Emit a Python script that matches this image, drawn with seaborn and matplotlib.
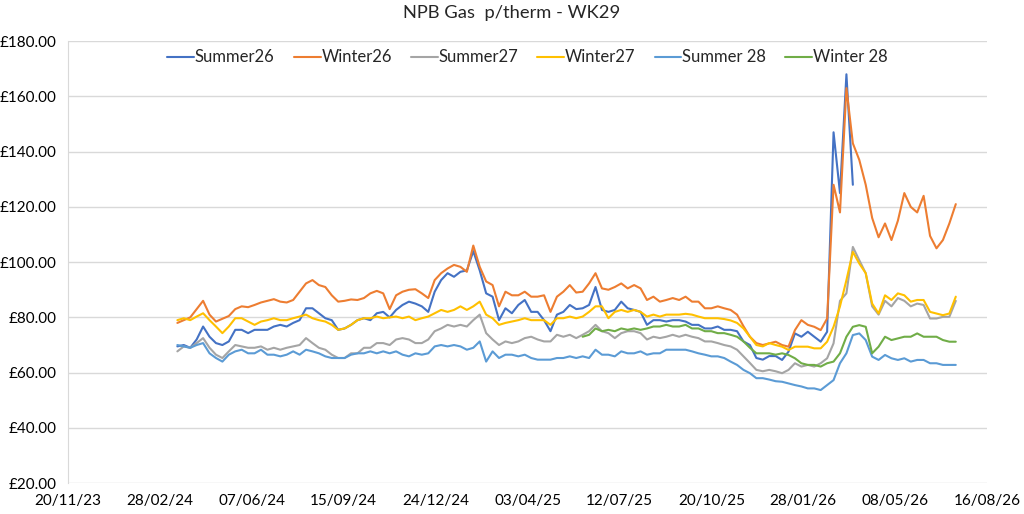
import numpy as np
import pandas as pd
import seaborn as sns
import matplotlib
matplotlib.use("Agg")
import matplotlib.pyplot as plt
import matplotlib.dates as mdates
from matplotlib.ticker import FuncFormatter

# weekly closes (p/therm), 18/03/24 -> 13/07/26
dates = pd.date_range("2024-03-18", periods=122, freq="7D")

summer26 = [
    69.5, 70, 69, 72, 76.7, 73, 70.7, 70, 71.3, 75.5,
    75.5, 74.3, 75.5, 75.5, 75.5, 76.7, 77.3, 76.7, 78, 79,
    83.3, 83.3, 81.5, 79.7, 79, 75.5, 76, 77.3, 79, 79.7,
    79, 81.5, 82, 80, 82.7, 84.5, 85.7, 85, 84, 82,
    89.3, 93.5, 96, 94.7, 96.5, 97, 104, 97, 88.7, 87.5,
    79, 83.3, 81.5, 84.5, 86.3, 82, 82, 79, 75, 81,
    82, 84.5, 83, 83.3, 84.5, 91, 82.7, 82, 82.7, 85.7,
    83.3, 82.7, 82, 77.3, 79, 79, 78.5, 79, 79, 78.5,
    77.3, 77.3, 76, 76, 76.7, 75.5, 75.5, 75, 71.3, 70,
    65.3, 64.7, 66, 66, 64.6, 67.6, 74.2, 73, 74.8, 73,
    71.2, 74.8, 147, 125, 168, 128,
] + [np.nan] * 16

winter26 = [
    78, 79, 80, 83, 86, 81, 78.5, 79.5, 80.5, 83,
    84, 83.7, 84.5, 85.4, 86, 86.6, 85.7, 85.4, 86.3, 89.3,
    92.3, 93.5, 91.7, 91, 88, 85.7, 86, 86.5, 86.3, 87,
    88.7, 89.6, 88.7, 83, 88, 89.3, 90, 90.2, 88.7, 87,
    93.5, 96, 97.7, 99, 98.3, 96.5, 106, 98.3, 93, 91.7,
    84, 89.3, 88, 88, 89.3, 87.5, 87.5, 88, 82, 87.5,
    89.3, 91.7, 89, 89.3, 92.3, 96, 90.5, 90, 91, 92.3,
    90.5, 91.7, 90.5, 86.3, 87.5, 85.7, 86.3, 87, 86.3, 87.5,
    85.7, 85.7, 83.3, 83.3, 84, 83.3, 82.7, 81, 76.8, 73,
    70.7, 70, 70.6, 71.2, 70, 69.4, 75.4, 79, 77.3, 76.6,
    75.4, 79.6, 128, 118, 163, 143, 137, 128, 116, 109,
    114, 108, 115, 125, 120, 118, 124, 109.5, 105, 108,
    114, 121,
]

summer27 = [
    67.7, 69.5, 69, 70.7, 72.5, 69, 66.5, 65.3, 67.7, 70,
    69.5, 69, 69, 69.5, 68.3, 69, 68.3, 69, 69.5, 70,
    72.5, 70.7, 69, 68.3, 66.5, 65.3, 65.3, 67, 67, 69,
    69, 70.7, 70.7, 70, 72, 72.5, 72, 70.7, 70.7, 72,
    75, 76, 77.3, 76.7, 77.3, 76.7, 79, 81, 74.3, 72,
    70, 71.3, 70.7, 71.3, 72.5, 73, 72, 71.3, 71.3, 73.7,
    73, 73.7, 72.5, 73.7, 75, 77.3, 75, 74.3, 72.5, 74.3,
    75, 75, 74.3, 72, 73, 72.5, 73, 73.7, 73, 73.7,
    73, 72.5, 71.3, 71.3, 70.7, 70, 69.5, 68.3, 65.9, 63.5,
    61, 60.5, 61, 60.5, 59.8, 61, 63.4, 62.2, 62.8, 62.2,
    63.4, 65.2, 70.6, 86, 88.7, 105.5, 100.7, 96, 84, 81,
    86, 84, 87, 86, 84, 85, 84.5, 79.6, 79.6, 80.2,
    80.2, 86,
]

winter27 = [
    79, 79.7, 79, 80.3, 81.5, 79, 76.7, 74.3, 76.7, 79.7,
    79.7, 78.5, 77.3, 78.5, 79, 79.7, 79, 79, 79.7, 80.3,
    81, 79.7, 79, 78.5, 77.3, 75.5, 76, 77.3, 79, 79.7,
    79.7, 80.3, 79.7, 80, 80.3, 79.7, 80.3, 79, 79.7, 80.3,
    81.5, 82.7, 82, 82.7, 84, 82.7, 84, 85.7, 81, 79.7,
    77.3, 78, 78.5, 79, 79.7, 79, 79, 79, 77.3, 79.7,
    79.7, 80.3, 79.7, 80.3, 82, 84, 84, 79.7, 82, 82.7,
    82, 82.7, 82, 80.3, 81, 80.3, 81, 81, 81, 81.3,
    81, 80.3, 79.7, 79.7, 79.7, 79.4, 78.9, 78, 76, 73,
    70, 69.5, 70.7, 70, 69.4, 68.2, 69.4, 69.4, 69.4, 68.8,
    68.8, 71.2, 76.6, 84, 93.5, 103.7, 99.5, 96, 85, 81.4,
    88, 86.3, 88.7, 88, 85.7, 86.3, 86.3, 82, 81.4, 80.8,
    81.4, 87.5,
]

summer28 = [
    70, 69.5, 69, 70, 70.7, 67, 65.3, 64, 66.5, 67.7,
    68.3, 67, 67, 68.3, 66.5, 66.5, 65.9, 66.5, 67.7, 66.5,
    68.3, 67.7, 67, 65.9, 65.3, 65.3, 65.3, 66.5, 67, 67,
    67.7, 67, 67.7, 67, 67.7, 66.5, 65.9, 67, 66.5, 67,
    69.5, 70, 69.5, 70, 69.5, 68.3, 69, 71.3, 64, 67.7,
    65.3, 66.5, 66.5, 65.9, 66.5, 65.3, 64.7, 64.7, 64.7, 65.3,
    65.3, 65.9, 65.3, 65.9, 65.3, 68.3, 66.5, 66.5, 65.9, 67.7,
    67, 67, 67.7, 66.5, 67, 67, 68.3, 68.3, 68.3, 68.3,
    67.7, 67, 66.5, 65.9, 65.9, 65.3, 64, 62.8, 61, 59.8,
    58, 58, 57.5, 56.9, 56.7, 56.1, 55.5, 55, 54.3, 54.3,
    53.7, 55.5, 57.3, 63.4, 67, 73.6, 74.2, 71.8, 65.8, 64.6,
    66.4, 65.2, 64.6, 65.2, 64, 64.6, 64.6, 63.4, 63.4, 62.8,
    62.8, 62.8,
]

winter28 = [np.nan] * 63 + [
    73, 73.7, 76, 75, 75.5, 75, 76, 75.5, 76, 75.5,
    76, 76.7, 76.7, 77.3, 76.7, 76.7, 77.3, 76, 76, 75,
    75, 74.3, 74.3, 73.7, 73, 71.3, 69, 67, 67, 67,
    66.5, 67, 66.4, 65.2, 63.4, 62.8, 62.8, 62.2, 63.4, 64,
    67, 73, 76.6, 77.2, 76.6, 67, 69.4, 73, 71.8, 72.4,
    73, 73, 74.2, 73, 73, 73, 71.8, 71.2, 71.2,
]

series_names = ["Summer26", "Winter26", "Summer27", "Winter27", "Summer 28", "Winter 28"]
colors = ["#4472C4", "#ED7D31", "#A5A5A5", "#FFC000", "#5B9BD5", "#70AD47"]

df = pd.DataFrame({
    "Date": dates,
    "Summer26": summer26,
    "Winter26": winter26,
    "Summer27": summer27,
    "Winter27": winter27,
    "Summer 28": summer28,
    "Winter 28": winter28,
})
long_df = df.melt(id_vars="Date", var_name="Contract", value_name="Price").dropna()

sns.set_style("white")
plt.rcParams["font.family"] = ["Lato", "DejaVu Sans"]

fig = plt.figure(figsize=(10.24, 5.14), dpi=100)
ax = fig.add_axes([0.0664, 0.060, 0.8975, 0.860])

sns.lineplot(data=long_df, x="Date", y="Price", hue="Contract",
             hue_order=series_names, palette=colors, linewidth=1.5, ax=ax)

ax.set_ylim(20, 180)
ax.set_yticks(range(20, 181, 20))
ax.yaxis.set_major_formatter(FuncFormatter(lambda v, p: f"£{v:.2f}"))

xticks = pd.date_range("2023-11-20", "2026-08-16", freq="100D")
ax.set_xlim(xticks[0], xticks[-1])
ax.set_xticks(xticks)
ax.xaxis.set_major_formatter(mdates.DateFormatter("%d/%m/%y"))

ax.grid(axis="y", color="#D9D9D9", linewidth=1.0)
ax.set_axisbelow(True)
for side in ["top", "right", "bottom"]:
    ax.spines[side].set_visible(False)
ax.spines["left"].set_color("#D9D9D9")
ax.tick_params(axis="both", length=0, labelsize=11, colors="black")
ax.tick_params(axis="x", pad=8)
ax.tick_params(axis="y", pad=8)
ax.set_xlabel("")
ax.set_ylabel("")

ax.legend(loc="center", bbox_to_anchor=(0.5, 0.963), ncol=6, frameon=False,
          fontsize=12, handlelength=1.6, handletextpad=0.05, columnspacing=1.15)

fig.suptitle("NPB Gas  p/therm - WK29", x=0.5, y=0.99, fontsize=13.2)

fig.savefig("out.png", dpi=100)
